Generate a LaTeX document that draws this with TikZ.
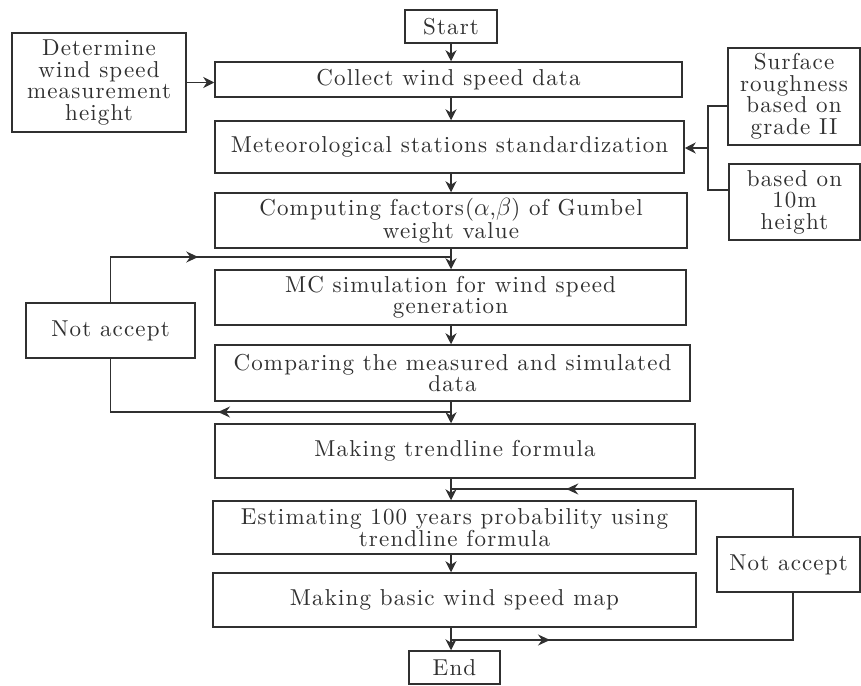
\documentclass[tikz,border=0pt]{standalone}
\usepackage{fontspec}
\setmainfont{lmroman10-regular.otf}[LetterSpace=5]
\usetikzlibrary{arrows.meta,decorations.markings,calc}
\definecolor{ink}{HTML}{303030}
\begin{document}
\begin{tikzpicture}[x=1pt,y=-1pt,
  every node/.style={font=\fontsize{23}{21.5}\selectfont, text=ink},
  box/.style={draw=ink, line width=1.5pt, inner sep=0pt, align=center},
  arr/.style={draw=ink, line width=1.3pt, -{Stealth[length=11pt,width=11pt,inset=3.5pt]}},
  ln/.style={draw=ink, line width=1.3pt},
  midarr/.style={postaction={decorate}, decoration={markings,
     mark=at position #1 with {\arrow{Stealth[length=12pt,width=11pt,inset=4pt]}}}}
]
\useasboundingbox (0,0) rectangle (861,685);
\fill[white] (0,0) rectangle (861,685);

% main column
\node[box, minimum width=92pt,  minimum height=33pt] (start)   at (451,26.5)  {Start};
\node[box, minimum width=467pt, minimum height=35pt] (collect) at (448.5,79.5) {Collect wind speed data};
\node[box, minimum width=469pt, minimum height=52pt] (meteo)   at (449.5,147) {Meteorological stations standardization};
\node[box, minimum width=472pt, minimum height=55pt] (comp)    at (451,220.5) {Computing factors($\alpha$,$\beta$) of Gumbel\\weight value};
\node[box, minimum width=471pt, minimum height=55pt] (mc)      at (450.5,297.5) {MC simulation for wind speed\\generation};
\node[box, minimum width=475pt, minimum height=56pt] (compare) at (452.5,373) {Comparing the measured and simulated\\data};
\node[box, minimum width=480pt, minimum height=54pt] (trend)   at (455,451) {Making trendline formula};
\node[box, minimum width=483pt, minimum height=53pt] (est)     at (454.5,527.5) {Estimating 100 years probability using\\trendline formula};
\node[box, minimum width=483pt, minimum height=54pt] (basic)   at (454.5,600) {Making basic wind speed map};
\node[box, minimum width=91pt,  minimum height=33pt] (end)     at (454.5,667.5) {End};

% side boxes
\node[box, minimum width=174pt, minimum height=99pt] (det)  at (99,82.5) {Determine\\wind speed\\measurement\\height};
\node[box, minimum width=132pt, minimum height=97pt] (surf) at (794,96.5) {Surface\\roughness\\based on\\grade II};
\node[box, minimum width=131pt, minimum height=76pt] (ten)  at (794.5,202) {based on\\10m\\height};
\node[box, minimum width=169pt, minimum height=55pt] (na1)  at (110.5,330.5) {Not accept};
\node[box, minimum width=143pt, minimum height=55pt] (na2)  at (788.5,564.5) {Not accept};

% helper coordinates
\coordinate (cx) at (451,0);
\coordinate (rx) at (793,0);
\coordinate (j1) at (451,257);
\coordinate (j2) at (451,412);
\coordinate (j3) at (451,489);
\coordinate (j4) at (451,640);
\coordinate (b1) at (708,106);
\coordinate (b2) at (708,190);
\coordinate (bm) at (708,148);

% main arrows
\draw[arr] (start.south -| cx)   -- (collect.north -| cx);
\draw[arr] (collect.south -| cx) -- (meteo.north -| cx);
\draw[arr] (meteo.south -| cx)   -- (comp.north -| cx);
\draw[arr] (comp.south -| cx)    -- (mc.north -| cx);
\draw[arr] (mc.south -| cx)      -- (compare.north -| cx);
\draw[arr] (compare.south -| cx) -- (trend.north -| cx);
\draw[arr] (trend.south -| cx)   -- (est.north -| cx);
\draw[arr] (est.south -| cx)     -- (basic.north -| cx);
\draw[arr] (basic.south -| cx)   -- (end.north -| cx);

% inputs
\draw[arr] (det.east) -- (det.east -| collect.west);
\draw[ln] (b1 -| surf.west) -- (b1) -- (b2) -- (b2 -| ten.west);
\draw[arr] (bm) -- (bm -| meteo.east);

% left loop
\draw[ln, midarr=233pt] (j2) -| (na1.south);
\draw[ln, midarr=133pt] (na1.north) |- (j1);

% right loop
\draw[ln, midarr=99pt] (j4) -| (na2.south -| rx);
\draw[ln, midarr=274pt] (na2.north -| rx) |- (j3);
\end{tikzpicture}
\end{document}
